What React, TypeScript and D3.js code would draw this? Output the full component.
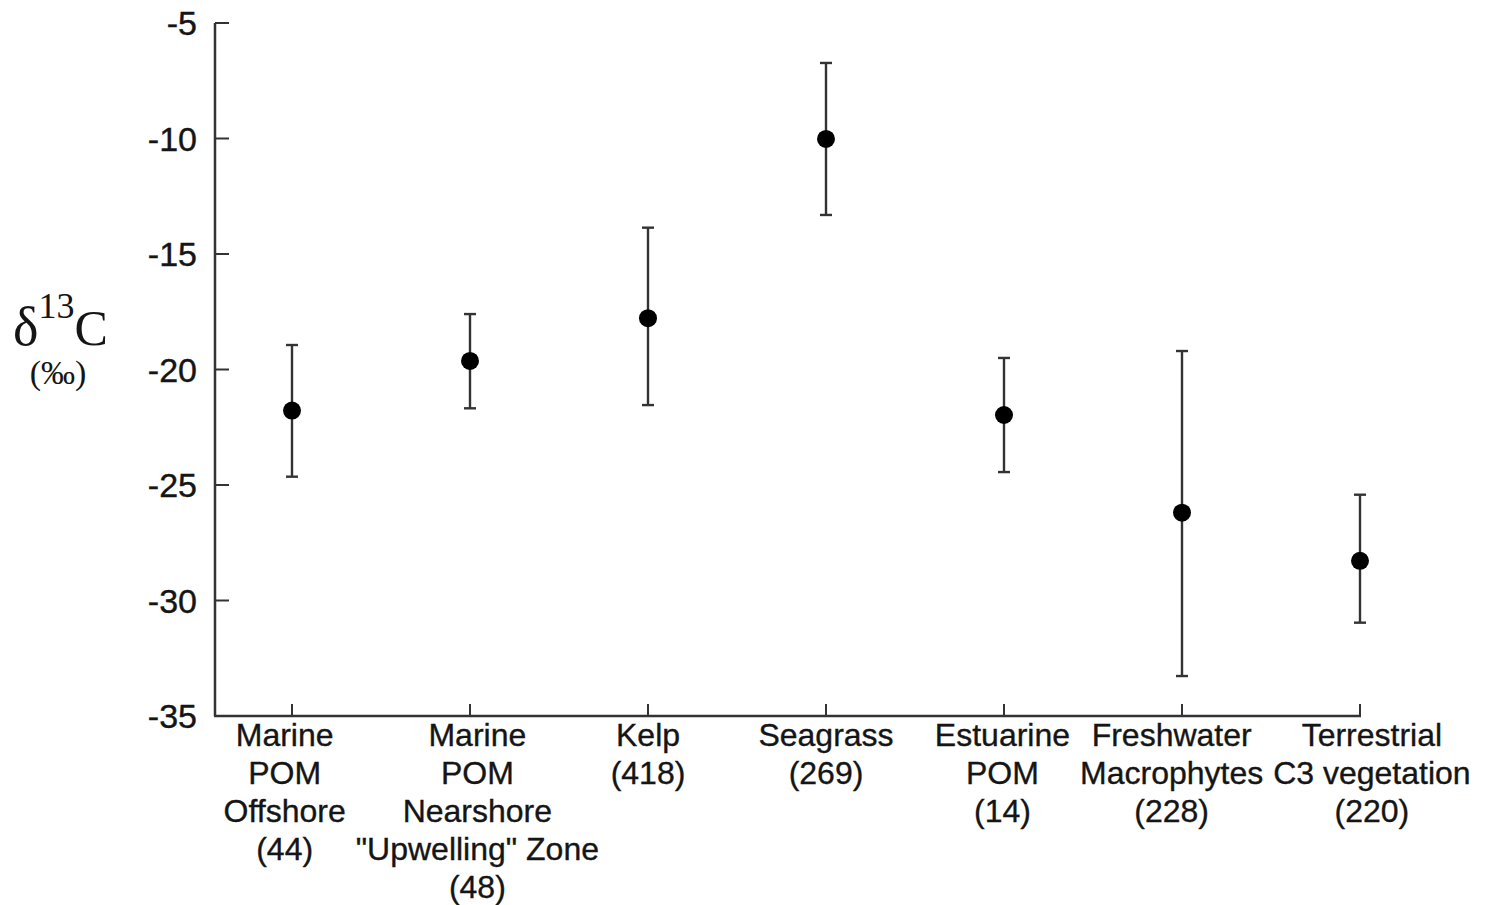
import React, { useEffect, useRef } from "react";
import * as d3 from "d3";

// ---- data ----
const categories = [
  "Marine POM Offshore",
  "Marine POM Nearshore Upwelling Zone",
  "Kelp",
  "Seagrass",
  "Estuarine POM",
  "Freshwater Macrophytes",
  "Terrestrial C3 vegetation",
];
const labelLines: string[][] = [
  ["Marine", "POM", "Offshore", "(44)"],
  ["Marine", "POM", "Nearshore", "\"Upwelling\" Zone", "(48)"],
  ["Kelp", "(418)"],
  ["Seagrass", "(269)"],
  ["Estuarine", "POM", "(14)"],
  ["Freshwater", "Macrophytes", "(228)"],
  ["Terrestrial", "C3 vegetation", "(220)"],
];
const means = [-21.78, -19.63, -17.78, -10.02, -21.97, -26.2, -28.28];
const upper = [-18.94, -17.6, -13.86, -6.73, -19.5, -19.2, -25.42];
const lower = [-24.64, -21.68, -21.54, -13.31, -24.44, -33.27, -30.96];
const yTicks = [-35, -30, -25, -20, -15, -10, -5];

export default function App() {
  const ref = useRef<SVGSVGElement | null>(null);

  useEffect(() => {
    const svg = d3.select(ref.current);
    svg.selectAll("*").remove();

    const axisLeft = 215;
    const y = d3.scaleLinear().domain([-35, -5]).range([716, 23]);
    const x = d3.scalePoint<string>().domain(categories).range([292, 1360]);

    const ink = "#151515";
    const sans = "Liberation Sans, Arial, Helvetica, sans-serif";
    const serif = "Liberation Serif, Times New Roman, serif";

    const g = svg.append("g");
    g.append("line")
      .attr("x1", axisLeft).attr("x2", axisLeft)
      .attr("y1", y(-5)).attr("y2", y(-35))
      .attr("stroke", "#333").attr("stroke-width", 2.5);
    const lastX = x(categories[categories.length - 1])!;
    g.append("line")
      .attr("x1", axisLeft - 1).attr("x2", lastX + 1)
      .attr("y1", y(-35)).attr("y2", y(-35))
      .attr("stroke", "#333").attr("stroke-width", 2.5);

    // y ticks (pointing inward)
    const yt = g.selectAll(".yt").data(yTicks).enter().append("g");
    yt.append("line")
      .attr("x1", axisLeft).attr("x2", axisLeft + 14)
      .attr("y1", (d) => y(d)).attr("y2", (d) => y(d))
      .attr("stroke", "#333").attr("stroke-width", 2);
    yt.append("text")
      .attr("x", 197).attr("y", (d) => y(d))
      .attr("dy", "0.36em")
      .attr("text-anchor", "end")
      .attr("font-family", sans).attr("font-size", 34)
      .attr("fill", ink).attr("stroke", ink).attr("stroke-width", 0.4)
      .text((d) => String(d));

    // x ticks (pointing up)
    g.selectAll(".xt").data(categories).enter().append("line")
      .attr("x1", (d) => x(d)!).attr("x2", (d) => x(d)!)
      .attr("y1", y(-35)).attr("y2", y(-35) - 12)
      .attr("stroke", "#333").attr("stroke-width", 2);

    // error bars
    const idx = d3.range(categories.length);
    const eb = g.selectAll(".eb").data(idx).enter().append("g");
    eb.append("line")
      .attr("x1", (i) => x(categories[i])!).attr("x2", (i) => x(categories[i])!)
      .attr("y1", (i) => y(upper[i])).attr("y2", (i) => y(lower[i]))
      .attr("stroke", "#333").attr("stroke-width", 2.4);
    eb.append("line")
      .attr("x1", (i) => x(categories[i])! - 6).attr("x2", (i) => x(categories[i])! + 6)
      .attr("y1", (i) => y(upper[i])).attr("y2", (i) => y(upper[i]))
      .attr("stroke", "#333").attr("stroke-width", 2.4);
    eb.append("line")
      .attr("x1", (i) => x(categories[i])! - 6).attr("x2", (i) => x(categories[i])! + 6)
      .attr("y1", (i) => y(lower[i])).attr("y2", (i) => y(lower[i]))
      .attr("stroke", "#333").attr("stroke-width", 2.4);
    eb.append("circle")
      .attr("cx", (i) => x(categories[i])!).attr("cy", (i) => y(means[i]))
      .attr("r", 9).attr("fill", "#000");

    // category labels
    const lineH = 38;
    const firstBase = 746;
    const labels = g.selectAll(".lab").data(idx).enter().append("text")
      .attr("text-anchor", "middle")
      .attr("font-family", sans).attr("font-size", 32)
      .attr("fill", ink).attr("stroke", ink).attr("stroke-width", 0.35);
    labels.each(function (i) {
      const t = d3.select(this);
      labelLines[i].forEach((ln, k) => {
        t.append("tspan")
          .attr("x", 0)
          .attr("y", firstBase + k * lineH)
          .text(ln);
      });
    });
    const nodes = labels.nodes() as SVGTextElement[];
    const widths = nodes.map((n) => n.getBBox().width);
    const cx = idx.map((i) => x(categories[i])!);
    const gap = 10;
    for (let iter = 0; iter < 200; iter++) {
      let moved = false;
      for (let i = 0; i < cx.length - 1; i++) {
        const overlap = cx[i] + widths[i] / 2 + gap - (cx[i + 1] - widths[i + 1] / 2);
        if (overlap > 0.1) {
          cx[i] -= overlap / 2;
          cx[i + 1] += overlap / 2;
          moved = true;
        }
      }
      const last = cx.length - 1;
      if (cx[last] + widths[last] / 2 > 1490) {
        cx[last] = 1490 - widths[last] / 2;
        moved = true;
      }
      if (!moved) break;
    }
    labels.attr("transform", (i) => `translate(${cx[i]},0)`);

    // y axis title
    const title = g.append("text")
      .attr("font-family", serif).attr("fill", ink)
      .attr("x", 13).attr("y", 345);
    title.append("tspan").attr("font-size", 54).text("δ");
    title.append("tspan").attr("font-size", 36).attr("dy", -27).text("13");
    title.append("tspan").attr("font-size", 50).attr("dy", 27).text("C");
    g.append("text")
      .attr("font-family", serif).attr("fill", ink)
      .attr("font-size", 34).attr("text-anchor", "middle")
      .attr("x", 58).attr("y", 384)
      .text("(‰)");
  }, []);

  return (
    <svg
      ref={ref}
      width={1497}
      height={905}
      style={{ position: "absolute", left: 0, top: 0, background: "#fff" }}
    />
  );
}
